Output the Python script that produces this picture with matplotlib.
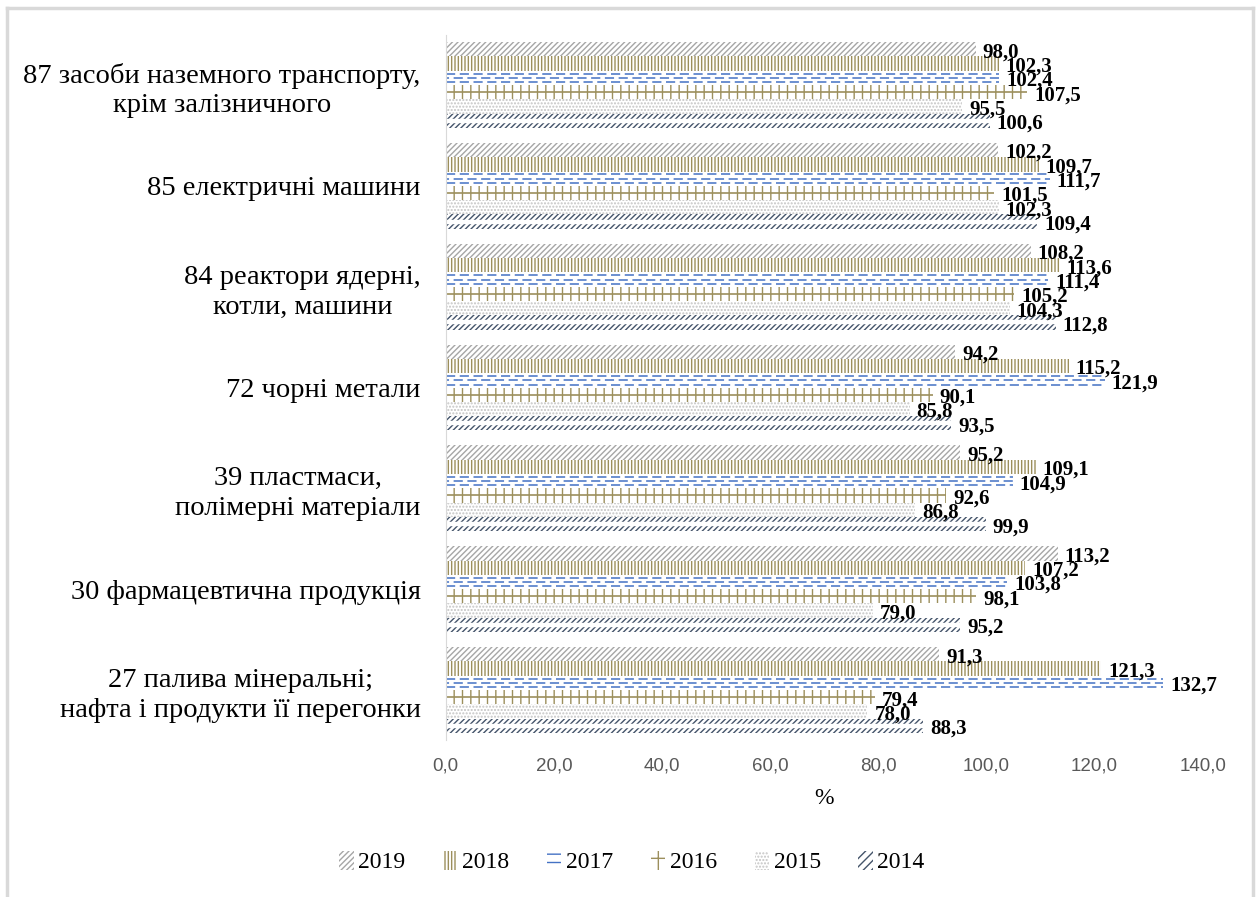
import numpy as np
import matplotlib
matplotlib.use('Agg')
import matplotlib.pyplot as plt
from matplotlib.lines import Line2D
from matplotlib.patches import Patch

plt.rcParams['hatch.linewidth'] = 1.0

categories = ['87 засоби наземного транспорту,\nкрім залізничного',
              '85 електричні машини',
              '84 реактори ядерні,\nкотли, машини',
              '72 чорні метали',
              '39 пластмаси,\nполімерні матеріали',
              '30 фармацевтична продукція',
              '27 палива мінеральні;\nнафта і продукти її перегонки']
years = ['2019', '2018', '2017', '2016', '2015', '2014']
v2019 = [98.0, 102.2, 108.2, 94.2, 95.2, 113.2, 91.3]
v2018 = [102.3, 109.7, 113.6, 115.2, 109.1, 107.2, 121.3]
v2017 = [102.4, 111.7, 111.4, 121.9, 104.9, 103.8, 132.7]
v2016 = [107.5, 101.5, 105.2, 90.1, 92.6, 98.1, 79.4]
v2015 = [95.5, 102.3, 104.3, 85.8, 86.8, 79.0, 78.0]
v2014 = [100.6, 109.4, 112.8, 93.5, 99.9, 95.2, 88.3]
series = [v2019, v2018, v2017, v2016, v2015, v2014]
xticks = [0, 20, 40, 60, 80, 100, 120, 140]

olive = '#9c8f5c'
blue = '#4472c4'
navy = '#44546a'
styles = [
    dict(hatch='//////', edgecolor='#a6a6a6'),
    dict(hatch='|||||', edgecolor=olive),
    dict(hatch=None, edgecolor=blue),
    dict(hatch='||', edgecolor=olive),
    dict(hatch='.....', edgecolor='#c4c4c4'),
    dict(hatch='//////', edgecolor=navy),
]

fig = plt.figure(figsize=(12.59, 8.97), dpi=100)
ax = fig.add_axes([0.354, 0.1746, 0.6012, 0.7868])

y = np.arange(len(categories))
h = 0.142
serif = 'Liberation Serif'
for j, vals in enumerate(series):
    pos = y + (j - 2.5) * h
    ax.barh(pos, vals, height=h, facecolor='white', linewidth=0, **styles[j])
    if j == 2:
        # three rows of dashes
        for k, off in zip((-0.3, 0, 0.3), (0, 4, 0)):
            ax.hlines(pos + k * h, 0, vals, color=blue, lw=1.1,
                      linestyle=(off, (6, 3)))
    if j == 3:
        ax.hlines(pos, 0, vals, color=olive, lw=1.2)
    if j == 5:
        ax.hlines(pos, 0, vals, color='white', lw=3.2)
    for yy, v in zip(pos, vals):
        ax.annotate(f'{v:.1f}'.replace('.', ','), (v, yy), xytext=(7, -3),
                    textcoords='offset pixels', ha='left', va='center',
                    fontsize=15, fontweight='bold', family=serif)

ax.set_ylim(len(categories) - 0.5, -0.5)
ax.set_xlim(0, 140)
ax.set_yticks(y)
ax.set_yticklabels(categories, family=serif, fontsize=20.5, ha='right',
                   multialignment='center', linespacing=1.25)
ax.set_xticks(xticks)
ax.set_xticklabels([f'{t:.1f}'.replace('.', ',') for t in xticks],
                   family=['Liberation Sans Narrow', 'Liberation Sans'],
                   fontsize=13.5, color='#595959')
ax.tick_params(axis='both', length=0)
ax.tick_params(axis='y', pad=18)
ax.tick_params(axis='x', pad=12)
ax.set_xlabel('%', family=serif, fontsize=17, labelpad=10)
for s in ['top', 'right', 'bottom']:
    ax.spines[s].set_visible(False)
ax.spines['left'].set_color('#d9d9d9')

handles = [Patch(facecolor='white', linewidth=0, **styles[0]),
           Patch(facecolor='white', linewidth=0, **styles[1]),
           Patch(facecolor='white', linewidth=0, hatch='--', edgecolor=blue),
           Patch(facecolor='white', linewidth=0, hatch='+', edgecolor=olive),
           Patch(facecolor='white', linewidth=0, **styles[4]),
           Patch(facecolor='white', linewidth=0, hatch='////', edgecolor=navy)]
fig.legend(handles=handles, labels=years, loc='center',
           bbox_to_anchor=(632 / 1259, 1 - 862 / 897), ncol=6, frameon=False,
           prop={'family': serif, 'size': 17}, handlelength=0.6,
           handleheight=0.9, handletextpad=0.2, columnspacing=1.6)

# chart border
bc = '#d9d9d9'
fig.add_artist(Line2D([7 / 1259, 7 / 1259], [0, 1 - 8 / 897], color=bc, lw=2.5))
fig.add_artist(Line2D([1253 / 1259, 1253 / 1259], [0, 1 - 8 / 897], color=bc, lw=2.5))
fig.add_artist(Line2D([7 / 1259, 1253 / 1259], [1 - 8 / 897, 1 - 8 / 897], color=bc, lw=2.5))

fig.savefig('out.png', dpi=100, facecolor='white')
